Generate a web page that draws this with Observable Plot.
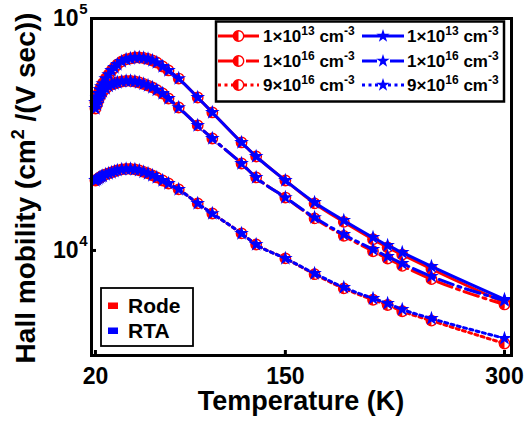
<!DOCTYPE html>
<html><head><meta charset="utf-8">
<script src="https://cdn.jsdelivr.net/npm/d3@7"></script>
<script src="https://cdn.jsdelivr.net/npm/@observablehq/plot@0.6"></script>
<style>body{margin:0;background:#fff}svg{display:block}</style>
</head><body><div id="chart"></div>
<script>
// Temperature (K) of each computed point
const temperature = [20,21,22,23,24,25,27,29,31,33,35,38,41,44,47,50,53,56,59,62,66,70,77,90,100,120,130,150,170,190,210,220,230,250,300];
// Hall mobility (cm^2/(V s)) – Rode method
const rode1e13 = [43450,45660,47500,49400,50900,52450,55100,57350,59700,61500,63350,65300,66600,67250,67900,67900,67550,66900,65900,64600,62100,59700,55100,45650,39350,29210,25420,20030,15950,13280,11180,10310,9590,8320,5960];
const rode1e16 = [40930,42600,44330,46100,47500,48450,49900,51150,51950,52450,52980,53500,53800,53800,53500,52980,52200,51400,50450,49200,47500,45200,41330,34590,30390,23710,20640,16910,13740,11560,9920,9230,8580,7520,5850];
const rode9e16 = [20030,20230,20430,20640,20850,20950,21270,21480,21700,21920,22140,22350,22460,22460,22350,22140,21810,21480,21060,20640,20030,19440,18330,15950,14430,11840,10610,9240,7900,6860,6130,5820,5470,4980,3970];
// Hall mobility – RTA method
const rta1e13 = [43450,45660,47500,49400,50900,52450,55100,57350,59700,61500,63350,65300,66600,67250,67900,67900,67550,66900,65900,64600,62100,59700,55100,45650,39350,29210,25420,20030,16100,13470,11380,10510,9800,8530,6150];
const rta1e16 = [40930,42600,44330,46100,47500,48450,49900,51150,51950,52450,52980,53500,53800,53800,53500,52980,52200,51400,50450,49200,47500,45200,41330,34590,30390,23710,20640,16910,13870,11720,10100,9420,8790,7730,6085];
const rta9e16 = [20030,20230,20430,20640,20850,20950,21270,21480,21700,21920,22140,22350,22460,22460,22350,22140,21810,21480,21060,20640,20030,19440,18330,15950,14430,11840,10610,9240,7960,6930,6210,5910,5570,5090,4180];

const concMantissa = ["1", "1", "9"];
const concExponent = ["13", "16", "16"];
const methods = ["Rode", "RTA"];
const xTicks = [20, 150, 300];
const yTicks = [1e4, 1e5];

const RED = "#ff0000", BLUE = "#0000ff";
const dashes = [null, "15,5,3,5", "3,3.5"];
const font = "'Liberation Sans', Arial, sans-serif";

function rows(values, method, ci) {
  return temperature.map((T, i) => ({T, mu: values[i], method, conc: ci}));
}
const rodeSeries = [rows(rode1e13, "Rode", 0), rows(rode1e16, "Rode", 1), rows(rode9e16, "Rode", 2)];
const rtaSeries = [rows(rta1e13, "RTA", 0), rows(rta1e16, "RTA", 1), rows(rta9e16, "RTA", 2)];
const rodeAll = rodeSeries.flat();
const rtaAll = rtaSeries.flat();

const halfLeft = {
  draw(context, size) {
    const r = Math.sqrt(size / Math.PI);
    context.moveTo(0, -r);
    context.arc(0, 0, r, -Math.PI / 2, Math.PI / 2, true);
    context.closePath();
  }
};

const W = 524, H = 422, mL = 91, mR = 13, mT = 18, mB = 67;

const marks = [];
rodeSeries.forEach((s, i) => marks.push(Plot.line(s, {x: "T", y: "mu", stroke: RED, strokeWidth: 3, strokeDasharray: dashes[i], curve: "monotone-x"})));
marks.push(Plot.dot(rodeAll, {x: "T", y: "mu", r: 5.2, fill: "white", stroke: RED, strokeWidth: 1.4}));
marks.push(Plot.dot(rodeAll, {x: "T", y: "mu", r: 5.2, symbol: halfLeft, fill: RED}));
rtaSeries.forEach((s, i) => marks.push(Plot.line(s, {x: "T", y: "mu", stroke: BLUE, strokeWidth: 3, strokeDasharray: dashes[i], curve: "monotone-x"})));
marks.push(Plot.dot(rtaAll, {x: "T", y: "mu", r: 4.6, symbol: "star", fill: BLUE}));
marks.push(Plot.frame({stroke: "black", strokeWidth: 3}));
marks.push(Plot.tickX(xTicks, {x: d => d, stroke: "black", strokeWidth: 3, insetTop: H - mT - mB - 5}));
marks.push(Plot.tickY(yTicks, {y: d => d, stroke: "black", strokeWidth: 3, insetRight: W - mL - mR - 5}));
marks.push(Plot.axisX(xTicks, {tickSize: 0, tickPadding: 12, fontSize: 23, fontWeight: "bold", fill: "black", label: null}));
marks.push(Plot.text(yTicks, {y: d => d, text: () => "10", frameAnchor: "left", textAnchor: "end", dx: -13, fontSize: 23, fontWeight: "bold", fill: "black"}));
marks.push(Plot.text(yTicks, {y: d => d, text: d => String(Math.round(Math.log10(d))), frameAnchor: "left", textAnchor: "end", dx: -4, dy: -9, fontSize: 15, fontWeight: "bold", fill: "black"}));

const plot = Plot.plot({
  width: W, height: H,
  marginLeft: mL, marginRight: mR, marginTop: mT, marginBottom: mB,
  style: {fontFamily: font, background: "white", overflow: "visible"},
  x: {domain: [17.3, 304.8], axis: null},
  y: {type: "log", domain: [3525, 100000], axis: null},
  marks
});
document.getElementById("chart").appendChild(plot);

const svg = d3.select(plot);
const g = svg.append("g").attr("font-family", font).attr("font-weight", "bold").attr("fill", "black").attr("text-anchor", "start");

// Axis titles
g.append("text").attr("x", 301).attr("y", 410).attr("text-anchor", "middle").attr("font-size", 27).text("Temperature (K)");
const yt = g.append("text").attr("transform", "translate(35,188) rotate(-90)").attr("text-anchor", "middle").attr("font-size", 28);
yt.append("tspan").text("Hall mobility (cm");
yt.append("tspan").attr("font-size", 18).attr("dy", -11).text("2");
yt.append("tspan").attr("dy", 11).text(" /(V sec))");

// Concentration legend (top right)
const lg = g.append("g");
lg.append("rect").attr("x", 216).attr("y", 21.5).attr("width", 288).attr("height", 80).attr("fill", "white").attr("stroke", "black").attr("stroke-width", 2.5);
const rowY = [36, 61, 85];
const cols = [{x0: 218, x1: 259, color: RED, sym: "half", tx: 263}, {x0: 362, x1: 404, color: BLUE, sym: "star", tx: 407}];
rowY.forEach((yy, ri) => {
  cols.forEach(c => {
    lg.append("line").attr("x1", c.x0).attr("x2", c.x1).attr("y1", yy).attr("y2", yy)
      .attr("stroke", c.color).attr("stroke-width", 3).attr("stroke-dasharray", dashes[ri]);
    const cx = (c.x0 + c.x1) / 2;
    if (c.sym === "half") {
      lg.append("circle").attr("cx", cx).attr("cy", yy).attr("r", 5.2).attr("fill", "white").attr("stroke", RED).attr("stroke-width", 1.4);
      lg.append("path").attr("transform", `translate(${cx},${yy})`).attr("d", d3.symbol(halfLeft, Math.PI * 27)()).attr("fill", RED);
    } else {
      lg.append("path").attr("transform", `translate(${cx},${yy})`).attr("d", d3.symbol(d3.symbolStar, 55)()).attr("fill", BLUE);
    }
    const t = lg.append("text").attr("x", c.tx).attr("y", yy + 6).attr("font-size", 17).attr("text-anchor", "start");
    t.append("tspan").text(concMantissa[ri] + "×10");
    t.append("tspan").attr("font-size", 12).attr("dy", -7).text(concExponent[ri]);
    t.append("tspan").attr("dy", 7).text(" cm");
    t.append("tspan").attr("font-size", 12).attr("dy", -7).text("-3");
  });
});

// Method legend (bottom left)
const mg = g.append("g");
mg.append("rect").attr("x", 101).attr("y", 288).attr("width", 92).attr("height", 58).attr("fill", "white").attr("stroke", "black").attr("stroke-width", 1.8);
[[RED, 302.5, 313], [BLUE, 327.5, 338]].forEach(([col, ry, ty], i) => {
  mg.append("rect").attr("x", 108).attr("y", ry).attr("width", 10).attr("height", 6.5).attr("fill", col);
  mg.append("text").attr("x", 128).attr("y", ty).attr("font-size", 21).attr("text-anchor", "start").text(methods[i]);
});
</script></body></html>
